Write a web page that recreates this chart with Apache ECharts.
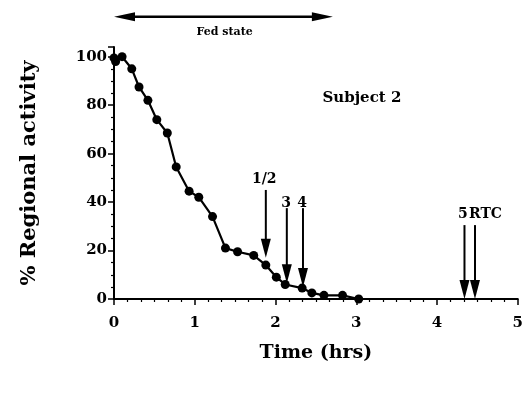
<!DOCTYPE html>
<html><head><meta charset="utf-8">
<script src="https://cdn.jsdelivr.net/npm/echarts@6/dist/echarts.min.js"></script>
<style>html,body{margin:0;padding:0;background:#fff}#c{width:526px;height:396px}</style>
</head><body><div id="c"></div>
<script>
// ---- data ----
const timeHrs  = [0, 0.02, 0.10, 0.22, 0.31, 0.42, 0.53, 0.66, 0.77, 0.93, 1.05, 1.22, 1.38, 1.53, 1.73, 1.88, 2.01, 2.12, 2.33, 2.45, 2.60, 2.83, 3.03];
const activity = [99.5, 98, 100, 95, 87.5, 82, 74, 68.5, 54.5, 44.5, 42, 34, 21, 19.5, 18, 14, 9, 6, 4.5, 2.5, 1.5, 1.5, 0];
const xTickValues = [0, 1, 2, 3, 4, 5];
const yTickValues = [0, 20, 40, 60, 80, 100];
// event arrows (x position, top, tip)
const arrowNames = ['1/2', '3', '4', '5', 'RTC'];
const arrowX     = [1.88, 2.14, 2.34, 4.34, 4.47];
const arrowTop   = [45, 37.5, 37.5, 30.5, 30.5];
const arrowTip   = [17, 6.5, 5, 0, 0];
const arrowLabelX = [1.86, 2.13, 2.33, 4.32, 4.6];
const arrowLabelY = [49.5, 39.5, 39.5, 35, 35];
// fed state span
const fedStart = 0, fedEnd = 2.71, fedY = 116.5;
const fedLabel = ['Fed state', 1.37, 110];
const subjectLabel = ['Subject 2', 3.07, 83];

const FONT = '"DejaVu Serif", serif';
const chart = echarts.init(document.getElementById('c'), null, {renderer: 'canvas'});

const arrowData = arrowX.map((x, i) => [x, arrowTop[i], x, arrowTip[i], 0]);
arrowData.push([fedStart, fedY, fedEnd, fedY, 1]);
const textData = arrowNames.map((t, i) => [arrowLabelX[i], arrowLabelY[i], t, 14]);
textData.push([fedLabel[1], fedLabel[2], fedLabel[0], 11]);
textData.push([subjectLabel[1], subjectLabel[2], subjectLabel[0], 15]);

function renderArrow(params, api) {
  const p1 = api.coord([api.value(0), api.value(1)]);
  const p2 = api.coord([api.value(2), api.value(3)]);
  const both = api.value(4) === 1;
  const headL = both ? 21 : 19, headW = both ? 9 : 10;
  const dx = p2[0] - p1[0], dy = p2[1] - p1[1];
  const len = Math.hypot(dx, dy);
  const ux = dx / len, uy = dy / len, nx = -uy, ny = ux;
  function head(tip, sx, sy) {
    const b = [tip[0] - sx * headL, tip[1] - sy * headL];
    return {type: 'polygon', shape: {points: [tip, [b[0] + nx * headW / 2, b[1] + ny * headW / 2], [b[0] - nx * headW / 2, b[1] - ny * headW / 2]]}, style: {fill: '#000'}};
  }
  const s = both ? [p1[0] + ux * headL * 0.8, p1[1] + uy * headL * 0.8] : p1;
  const e = [p2[0] - ux * headL * 0.8, p2[1] - uy * headL * 0.8];
  const children = [
    {type: 'line', shape: {x1: s[0], y1: s[1], x2: e[0], y2: e[1]}, style: {stroke: '#000', lineWidth: both ? 2.5 : 2}},
    head(p2, ux, uy)
  ];
  if (both) children.push(head(p1, -ux, -uy));
  return {type: 'group', children: children};
}
function renderText(params, api) {
  const p = api.coord([api.value(0), api.value(1)]);
  const d = textData[params.dataIndex];
  return {type: 'text', x: p[0], y: p[1], style: {text: d[2], fill: '#000', font: 'bold ' + d[3] + 'px ' + FONT, align: 'center', verticalAlign: 'middle'}};
}

chart.setOption({
  animation: false,
  backgroundColor: '#fff',
  grid: {left: 114, right: 8, top: 47, bottom: 97, containLabel: false},
  xAxis: {
    type: 'value', min: 0, max: 5, interval: 1,
    name: 'Time (hrs)', nameLocation: 'middle', nameGap: 45,
    nameTextStyle: {fontFamily: FONT, fontWeight: 'bold', fontSize: 19, color: '#000'},
    axisLine: {show: true, onZero: false, lineStyle: {color: '#000', width: 2}},
    axisTick: {show: true, length: 6, lineStyle: {color: '#000', width: 1.5}},
    minorTick: {show: true, splitNumber: 6, length: 3, lineStyle: {color: '#000', width: 1.2}},
    axisLabel: {margin: 17, fontFamily: FONT, fontWeight: 'bold', fontSize: 15, color: '#000',
      formatter: v => xTickValues.includes(v) ? String(v) : ''},
    splitLine: {show: false}
  },
  yAxis: {
    type: 'value', min: 0, max: 104, interval: 20,
    name: '% Regional activity', nameLocation: 'middle', nameGap: 74, nameRotate: 90,
    nameTextStyle: {fontFamily: FONT, fontWeight: 'bold', fontSize: 21, color: '#000'},
    axisLine: {show: true, onZero: false, lineStyle: {color: '#000', width: 2}},
    axisTick: {show: true, length: 6, lineStyle: {color: '#000', width: 1.5}},
    minorTick: {show: true, splitNumber: 4, length: 3, lineStyle: {color: '#000', width: 1.2}},
    axisLabel: {margin: 7, showMaxLabel: false, fontFamily: FONT, fontWeight: 'bold', fontSize: 15, color: '#000',
      formatter: v => yTickValues.includes(v) ? String(v) : ''},
    splitLine: {show: false}
  },
  series: [
    {
      type: 'line', data: timeHrs.map((t, i) => [t, activity[i]]),
      symbol: 'circle', symbolSize: 9, showAllSymbol: true,
      lineStyle: {color: '#000', width: 2.2}, itemStyle: {color: '#000'}, clip: false
    },
    {type: 'custom', renderItem: renderArrow, data: arrowData, clip: false, silent: true},
    {type: 'custom', renderItem: renderText, data: textData.map(d => [d[0], d[1]]), clip: false, silent: true}
  ]
});
</script>
</body></html>
